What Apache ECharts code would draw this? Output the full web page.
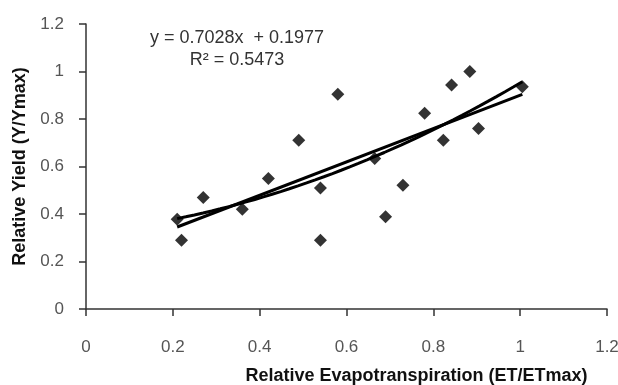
<!DOCTYPE html>
<html>
<head>
<meta charset="utf-8">
<script src="https://cdn.jsdelivr.net/npm/echarts@6/dist/echarts.min.js"></script>
<style>
  html, body { margin: 0; padding: 0; background: #fff; }
  #main { width: 618px; height: 385px; }
</style>
</head>
<body>
<div id="main"></div>
<script>
  // relative ET (x) and relative yield (y)
  var etValues = [0.21, 0.22, 0.27, 0.36, 0.42, 0.49, 0.54, 0.54, 0.58, 0.665, 0.69, 0.73, 0.78, 0.823, 0.842, 0.884, 0.904, 1.005]
  var yieldValues = [0.378, 0.29, 0.47, 0.42, 0.55, 0.711, 0.51, 0.29, 0.904, 0.634, 0.388, 0.521, 0.824, 0.711, 0.943, 1.0, 0.76, 0.936]

  // linear trend line as printed on the chart
  var slope = 0.7028
  var intercept = 0.1977
  var equationText = 'y = 0.7028x  + 0.1977'
  var r2Text = 'R\u00b2 = 0.5473'

  var axisTicks = [0, 0.2, 0.4, 0.6, 0.8, 1, 1.2]

  var font = "'Liberation Sans', Arial, sans-serif"

  var points = etValues.map(function (x, i) { return [x, yieldValues[i]] })
  var xMin = Math.min.apply(null, etValues)
  var xMax = Math.max.apply(null, etValues)

  var linearLine = [[xMin, slope * xMin + intercept], [xMax, slope * xMax + intercept]]

  // second order least squares fit of the same points (the curved trend line)
  function quadFit (xs, ys) {
    var s = [0, 0, 0, 0, 0], t = [0, 0, 0]
    for (var i = 0; i < xs.length; i++) {
      for (var k = 0; k < 5; k++) s[k] += Math.pow(xs[i], k)
      for (var j = 0; j < 3; j++) t[j] += ys[i] * Math.pow(xs[i], j)
    }
    var m = [[s[0], s[1], s[2], t[0]], [s[1], s[2], s[3], t[1]], [s[2], s[3], s[4], t[2]]]
    for (var c = 0; c < 3; c++) {
      for (var r = c + 1; r < 3; r++) {
        var f = m[r][c] / m[c][c]
        for (var q = c; q < 4; q++) m[r][q] -= f * m[c][q]
      }
    }
    var b = [0, 0, 0]
    for (var r2 = 2; r2 >= 0; r2--) {
      var v = m[r2][3]
      for (var q2 = r2 + 1; q2 < 3; q2++) v -= m[r2][q2] * b[q2]
      b[r2] = v / m[r2][r2]
    }
    return b
  }
  var coef = quadFit(etValues, yieldValues)
  var curveLine = []
  for (var n = 0; n <= 40; n++) {
    var cx = xMin + (xMax - xMin) * n / 40
    curveLine.push([cx, coef[0] + coef[1] * cx + coef[2] * cx * cx])
  }

  var chart = echarts.init(document.getElementById('main'), null, {renderer: 'canvas'})

  var axisStyle = {
    axisLine: {show: true, lineStyle: {color: '#333', width: 1.5}},
    axisTick: {show: true, length: 7, lineStyle: {color: '#333', width: 1.5}},
    splitLine: {show: false}
  }

  chart.setOption({
    animation: false,
    backgroundColor: '#fff',
    grid: {left: 86, right: 11, top: 24, bottom: 76, outerBoundsMode: 'none'},
    graphic: [{
      type: 'text',
      x: 237,
      y: 27,
      style: {
        text: equationText + '\n' + r2Text,
        font: '18px ' + font,
        fill: '#333',
        align: 'center',
        lineHeight: 22
      }
    }],
    xAxis: Object.assign({
      type: 'value',
      min: 0,
      max: 1.2,
      interval: 0.2,
      name: 'Relative Evapotranspiration (ET/ETmax)',
      nameLocation: 'middle',
      nameGap: 58,
      nameTextStyle: {fontFamily: font, fontWeight: 'bold', fontSize: 18, color: '#111', padding: [0, 0, 0, 140]},
      axisLabel: {margin: 30, fontFamily: font, fontSize: 17, color: '#555',
        formatter: function (v) { return axisTicks.indexOf(+v.toFixed(1)) >= 0 ? String(+v.toFixed(1)) : '' }}
    }, axisStyle),
    yAxis: Object.assign({
      type: 'value',
      min: 0,
      max: 1.2,
      interval: 0.2,
      name: 'Relative Yield (Y/Ymax)',
      nameLocation: 'middle',
      nameGap: 55,
      nameTextStyle: {fontFamily: font, fontWeight: 'bold', fontSize: 18, color: '#111'},
      axisLabel: {margin: 22, fontFamily: font, fontSize: 17, color: '#555',
        formatter: function (v) { return String(+v.toFixed(1)) }}
    }, axisStyle),
    series: [
      {
        type: 'scatter',
        symbol: 'diamond',
        symbolSize: 13,
        itemStyle: {color: '#000'},
        data: points,
        z: 3
      },
      {
        type: 'line',
        data: linearLine,
        showSymbol: false,
        lineStyle: {color: '#000', width: 3},
        z: 4
      },
      {
        type: 'line',
        data: curveLine,
        showSymbol: false,
        lineStyle: {color: '#000', width: 3},
        z: 4
      }
    ]
  })
</script>
</body>
</html>
